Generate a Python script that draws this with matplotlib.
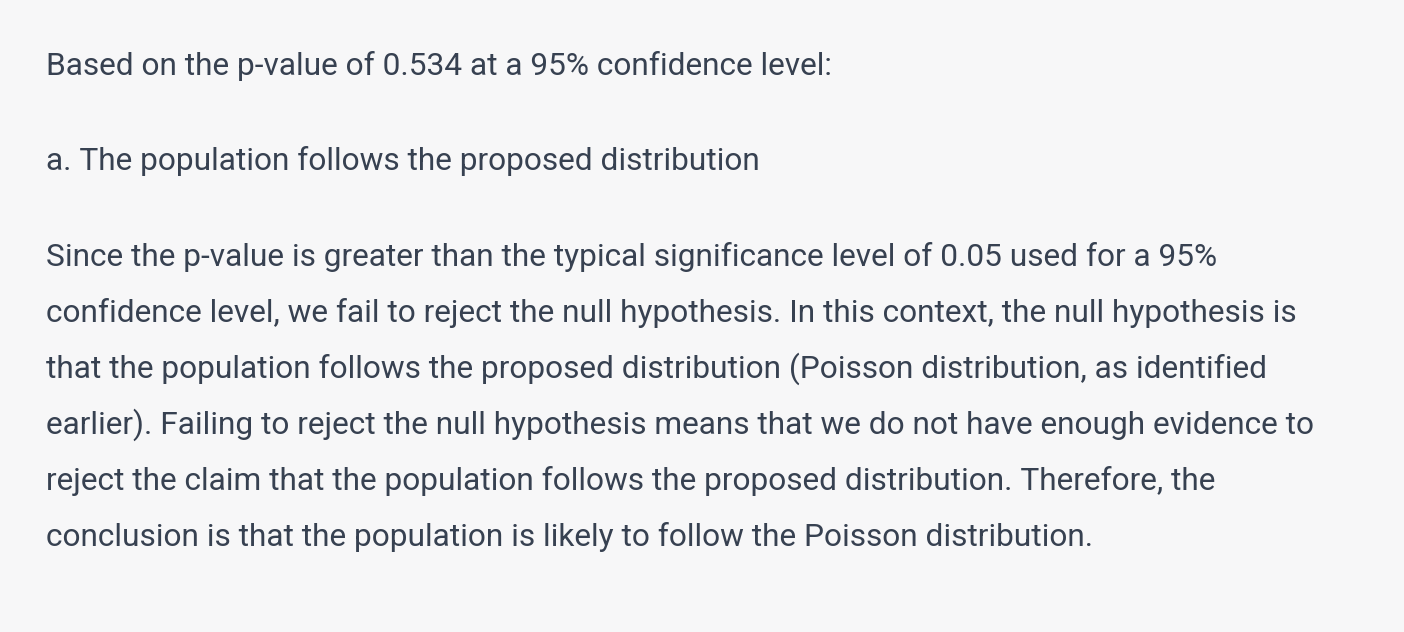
import matplotlib.pyplot as plt

heading = "Based on the p-value of 0.534 at a 95% confidence level:"
answer = "a. The population follows the proposed distribution"
explanation = [
    "Since the p-value is greater than the typical significance level of 0.05 used for a 95%",
    "confidence level, we fail to reject the null hypothesis. In this context, the null hypothesis is",
    "that the population follows the proposed distribution (Poisson distribution, as identified",
    "earlier). Failing to reject the null hypothesis means that we do not have enough evidence to",
    "reject the claim that the population follows the proposed distribution. Therefore, the",
    "conclusion is that the population is likely to follow the Poisson distribution.",
]

W, H = 1404, 632
bg = "#f7f7f8"
fg = "#374151"
fs = 22.8

fig = plt.figure(figsize=(W / 100, H / 100), dpi=100, facecolor=bg)

def put(txt, ybase):
    fig.text(46 / W, 1 - ybase / H, txt, fontsize=fs, color=fg,
             family="Roboto", va="baseline", ha="left")

put(heading, 75)
put(answer, 170)
for i, line in enumerate(explanation):
    put(line, 266 + 56 * i)

fig.savefig("out.png", dpi=100, facecolor=bg)
